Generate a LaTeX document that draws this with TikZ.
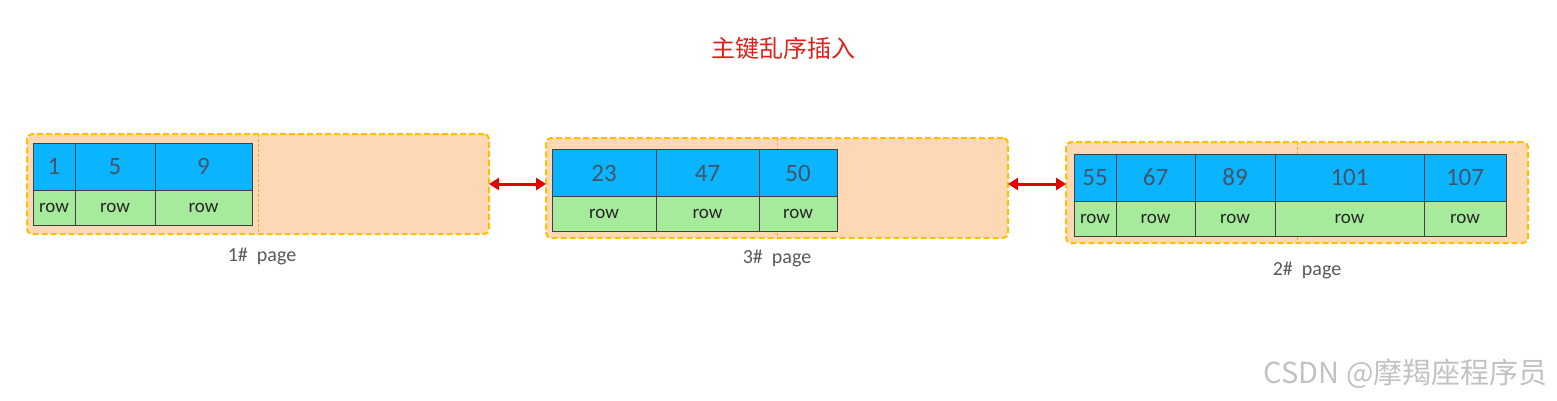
\documentclass[tikz,border=0pt]{standalone}
\usepackage{fontspec}
\setmainfont{Carlito}
\newfontfamily\cjk{Noto Sans CJK SC}
\usepackage{xcolor}
\usetikzlibrary{arrows.meta, positioning}

\definecolor{keyblue}{HTML}{0BB4FF}
\definecolor{rowgreen}{HTML}{A6EA9C}
\definecolor{pagefill}{HTML}{FDD8B4}
\definecolor{pageborder}{HTML}{FFC000}
\definecolor{keytext}{HTML}{44546A}
\definecolor{cellline}{HTML}{404040}
\definecolor{titlered}{HTML}{E0201A}

\tikzset{
  pagebox/.style={draw=pageborder, fill=pagefill, line width=2pt, dash pattern=on 6pt off 3pt,
    rounded corners=5pt, inner sep=0pt, outer sep=0pt, anchor=north west},
  divider/.style={draw=orange!60!pagefill, line width=0.6pt, dash pattern=on 3pt off 2pt},
  keycell/.style={draw=cellline, fill=keyblue, line width=0.8pt, inner sep=0pt, outer sep=0pt,
    minimum height=47pt, text=keytext, font=\fontsize{25}{28}\selectfont},
  rowcell/.style={draw=cellline, fill=rowgreen, line width=0.8pt, inner sep=0pt, outer sep=0pt,
    minimum height=35pt, text=black!85, font=\fontsize{19}{22}\selectfont},
  pagelabel/.style={text=black!65, font=\fontsize{20}{24}\selectfont},
  link/.style={draw=red!90!black, line width=3pt, {Triangle[length=10pt,width=12pt]}-{Triangle[length=10pt,width=12pt]}},
}

\begin{document}
\begin{tikzpicture}[x=1pt, y=-1pt]
  \useasboundingbox (0,0) rectangle (1557,400);

  \node[text=titlered, font=\cjk\fontsize{24}{28}\selectfont] (title) at (783,48) {主键乱序插入};

  % page 1#
  \node[pagebox, minimum width=462pt, minimum height=100pt] (p1) at (27,134) {};
  \draw[divider] (p1.north) -- (p1.south);
  \foreach \l/\r/\n [count=\i] in {33/75/1, 75/155/5, 155/252/9} {
    \node[keycell, minimum width={(\r-\l)*1pt}] (a\i) at ({(\l+\r)/2},166.5) {\n};
    \node[rowcell, minimum width={(\r-\l)*1pt}, below=0pt of a\i] (ar\i) {row};
  }
  \node[pagelabel] (l1) at (262,256) {1\#\ \ page};

  % page 3#
  \node[pagebox, minimum width=462pt, minimum height=100pt] (p3) at (546,138) {};
  \draw[divider] (p3.north) -- (p3.south);
  \foreach \l/\r/\n [count=\i] in {552/656/23, 656/759/47, 759/837/50} {
    \node[keycell, minimum width={(\r-\l)*1pt}] (b\i) at ({(\l+\r)/2},173) {\n};
    \node[rowcell, minimum width={(\r-\l)*1pt}, below=0pt of b\i] (br\i) {row};
  }
  \node[pagelabel] (l3) at (777,258) {3\#\ \ page};

  % page 2#
  \node[pagebox, minimum width=462pt, minimum height=101pt] (p2) at (1066,142) {};
  \draw[divider] (p2.north) -- (p2.south);
  \foreach \l/\r/\n [count=\i] in {1074/1116/55, 1116/1195/67, 1195/1275/89, 1275/1424/101, 1424/1506/107} {
    \node[keycell, minimum width={(\r-\l)*1pt}] (c\i) at ({(\l+\r)/2},177.5) {\n};
    \node[rowcell, minimum width={(\r-\l)*1pt}, below=0pt of c\i] (cr\i) {row};
  }
  \node[pagelabel] (l2) at (1307,270) {2\#\ \ page};

  % links between pages
  \draw[link] (p1.east) -- (p1.east -| p3.west);
  \draw[link] (p3.east |- p1.east) -- (p2.west |- p1.east);

  \node[anchor=east, text=black!24, font=\cjk\fontsize{29}{33}\selectfont] (wm) at (1551,374) {CSDN @摩羯座程序员};
\end{tikzpicture}
\end{document}
